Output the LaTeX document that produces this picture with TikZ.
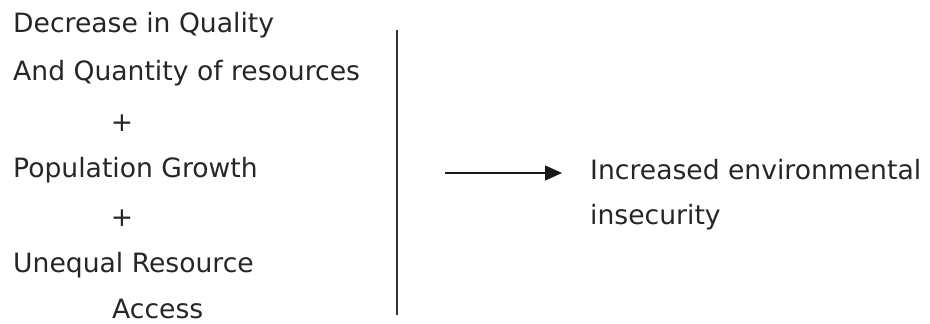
\documentclass[tikz,border=0pt]{standalone}
\usepackage{fontspec}
\setmainfont{DejaVu Sans}
\usetikzlibrary{arrows.meta, positioning}

\begin{document}
\begin{tikzpicture}[
	x = 1pt, y = -1pt,
	> = {Triangle[length=17pt, width=15pt]},
	txt/.style = {draw=none, inner sep=0pt, anchor=west,
		text=black!85, font=\fontsize{26.6}{30}\selectfont},
	plus/.style = {txt, anchor=center},
	bar/.style = {line width=1.4pt, black!80},
	link/.style = {->, line width=1.3pt, black!90},
	]
	\useasboundingbox (0,0) rectangle (930,324);
	% causes
	\node[txt]  (quality)  at (13,25)  {Decrease in Quality};
	\node[txt]  (quantity) at (13,73)  {And Quantity of resources};
	\node[plus] (p1)       at (122,123) {+};
	\node[txt]  (pop)      at (13,170) {Population Growth};
	\node[plus] (p2)       at (122,218) {+};
	\node[txt]  (unequal)  at (13,265) {Unequal Resource};
	\node[txt]  (access)   at (112,309) {Access};
	% separator
	\coordinate (bartop) at (397,30);
	\coordinate (barbot) at (397,315);
	\draw[bar] (bartop) -- (barbot);
	% effect
	\node[txt] (effect) at (590,170) {Increased environmental};
	\node[txt] (effect2) at (590,217) {insecurity};
	\coordinate (from) at (445,173);
	\draw[link] (from) -- (effect.west |- from) [shorten >=28pt];
\end{tikzpicture}
\end{document}
